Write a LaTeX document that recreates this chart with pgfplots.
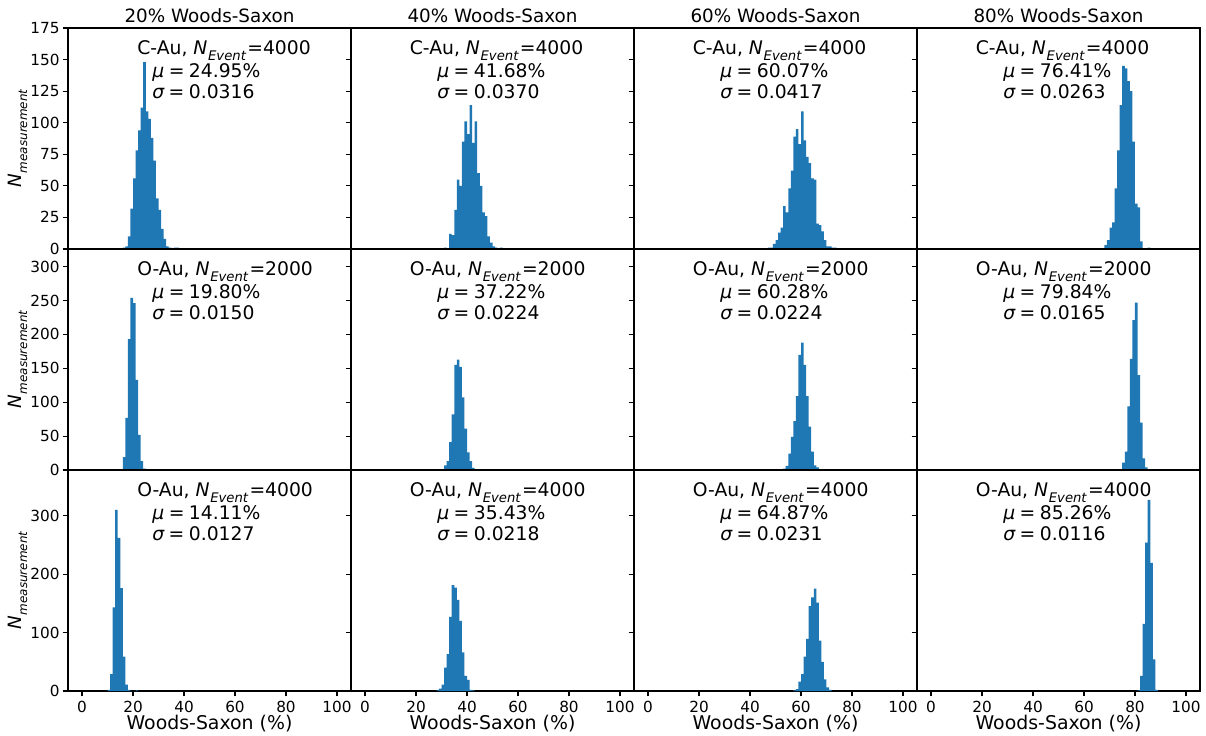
\documentclass[border=0pt]{standalone}
\usepackage{fontspec}
\setmainfont{DejaVu Sans}
\usepackage{pgfplots}
\pgfplotsset{compat=1.18}
\definecolor{mplblue}{HTML}{1F77B4}

\pgfplotsset{
 hist/.style={scale only axis, width=203.76pt, height=159.12pt, anchor=north west,
  xmin=-5.5, xmax=105.5, ymin=0,
  axis line style={line width=0.8pt, black},
  every tick/.style={black, line width=0.8pt},
  tick align=outside, major tick length=3.8pt,
  xtick pos=bottom, ytick pos=left,
  xtick={0,20,...,100},
  tick label style={font=\fontsize{11}{13}\selectfont},
  yticklabel style={xshift=1.2pt},
  /pgf/number format/assume math mode=true,
  every axis title/.style={at={(0.5,1.054)}, anchor=center, font=\fontsize{13.2}{15}\selectfont},
  every axis x label/.style={at={(axis description cs:0.5,-0.147)}, anchor=center, font=\fontsize{13.6}{15}\selectfont},
  every axis y label/.style={at={(axis description cs:-0.177,0.5)}, anchor=center, rotate=90, font=\fontsize{13.2}{15}\selectfont},
  scaled y ticks=false,
 },
 r1/.style={ymax=175, ytick={0,25,...,175}, xmajorticks=false},
 r2/.style={ymax=326, ytick={0,50,...,300}, xmajorticks=false},
 r3/.style={ymax=378, ytick={0,100,200,300}, xlabel={Woods-Saxon (\%)}},
 c1/.style={ylabel={\itshape N\kern0.5pt\raisebox{-0.28em}{\fontsize{8.6}{10}\selectfont\itshape measurement}}},
 cin/.style={yticklabel=\empty},
 bars/.style={ybar interval, fill=mplblue, draw=none},
}
\newcommand{\ann}[5]{%
 \node[anchor=base west, inner sep=0pt, font=\fontsize{13.5}{16}\selectfont] at (axis description cs:#1,0.878) {#3, {\itshape N}\kern0.5pt\raisebox{-0.3em}{\fontsize{9.5}{11}\selectfont\itshape Event}\kern1pt=#4};
 \node[anchor=base west, inner sep=0pt, font=\fontsize{13.5}{16}\selectfont] at (axis description cs:#2,0.778) {{\itshape μ}\kern0.24em=\kern0.24em#5\%};
}
\newcommand{\anns}[2]{%
 \node[anchor=base west, inner sep=0pt, font=\fontsize{13.5}{16}\selectfont] at (axis description cs:#1,0.679) {{\itshape σ}\kern0.24em=\kern0.24em#2};
}

\begin{document}
\begin{tikzpicture}
\useasboundingbox (0,0) rectangle (868.32pt,-529.92pt);

% ---------------- Row 1 ----------------
\begin{axis}[hist, r1, c1, at={(68*0.72pt,-28*0.72pt)}, title={20\% Woods-Saxon}]
\addplot[bars] coordinates {(16,1)(17,2)(18,10)(19,32)(20,56)(21,78)(22,94)(23,112)(24,148)(25,109)(26,103)(27,88)(28,70)(29,40)(30,31)(31,16)(32,8)(33,2)(34,1)(35,0)(36,1)(37,1)(38,0)};
\ann{0.244}{0.297}{C-Au}{4000}{24.95}\anns{0.297}{0.0316}
\end{axis}
\begin{axis}[hist, r1, cin, at={(351*0.72pt,-28*0.72pt)}, title={40\% Woods-Saxon}]
\addplot[bars] coordinates {(31,1)(32,0)(33,12)(34,11)(35,31)(36,55)(37,50)(38,85)(39,101)(40,91)(41,114)(42,84)(43,101)(44,60)(45,50)(46,29)(47,26)(48,10)(49,5)(50,2)(51,1)(52,0)(53,1)(54,0)};
\ann{0.207}{0.304}{C-Au}{4000}{41.68}\anns{0.304}{0.0370}
\end{axis}
\begin{axis}[hist, r1, cin, at={(634*0.72pt,-28*0.72pt)}, title={60\% Woods-Saxon}]
\addplot[bars] coordinates {(47,1)(48,1)(49,4)(50,7)(51,13)(52,17)(53,34)(54,29)(55,48)(56,62)(57,89)(58,95)(59,83)(60,109)(61,86)(62,73)(63,68)(64,56)(65,55)(66,20)(67,19)(68,14)(69,7)(70,2)(71,2)(72,1)(73,1)(74,0)};
\ann{0.207}{0.304}{C-Au}{4000}{60.07}\anns{0.304}{0.0417}
\end{axis}
\begin{axis}[hist, r1, cin, at={(917*0.72pt,-28*0.72pt)}, title={80\% Woods-Saxon}]
\addplot[bars] coordinates {(68,3)(69,7)(70,17)(71,21)(72,48)(73,78)(74,114)(75,145)(76,143)(77,133)(78,125)(79,85)(80,36)(81,33)(82,6)(83,0)(84,0)(85,1)(86,0)};
\ann{0.207}{0.304}{C-Au}{4000}{76.41}\anns{0.304}{0.0263}
\end{axis}

% ---------------- Row 2 ----------------
\begin{axis}[hist, r2, c1, at={(68*0.72pt,-249*0.72pt)}]
\addplot[bars] coordinates {(14,1)(15,1)(16,19)(17,77)(18,193)(19,254)(20,246)(21,133)(22,52)(23,13)(24,2)(25,0)};
\ann{0.244}{0.297}{O-Au}{2000}{19.80}\anns{0.297}{0.0150}
\end{axis}
\begin{axis}[hist, r2, cin, at={(351*0.72pt,-249*0.72pt)}]
\addplot[bars] coordinates {(30,1)(31,7)(32,13)(33,41)(34,82)(35,155)(36,163)(37,152)(38,107)(39,61)(40,26)(41,13)(42,3)(43,1)(44,1)(45,0)};
\ann{0.207}{0.304}{O-Au}{2000}{37.22}\anns{0.304}{0.0224}
\end{axis}
\begin{axis}[hist, r2, cin, at={(634*0.72pt,-249*0.72pt)}]
\addplot[bars] coordinates {(53,2)(54,6)(55,24)(56,49)(57,72)(58,109)(59,170)(60,188)(61,155)(62,109)(63,64)(64,27)(65,7)(66,4)(67,1)(68,1)(69,0)};
\ann{0.207}{0.304}{O-Au}{2000}{60.28}\anns{0.304}{0.0224}
\end{axis}
\begin{axis}[hist, r2, cin, at={(917*0.72pt,-249*0.72pt)}]
\addplot[bars] coordinates {(74,1)(75,11)(76,27)(77,94)(78,164)(79,221)(80,247)(81,140)(82,70)(83,17)(84,4)(85,1)(86,0)};
\ann{0.207}{0.304}{O-Au}{2000}{79.84}\anns{0.304}{0.0165}
\end{axis}

% ---------------- Row 3 ----------------
\begin{axis}[hist, r3, c1, at={(68*0.72pt,-470*0.72pt)}]
\addplot[bars] coordinates {(10,2)(11,29)(12,143)(13,310)(14,262)(15,176)(16,59)(17,11)(18,2)(19,0)(20,0)(21,1)(22,0)};
\ann{0.244}{0.297}{O-Au}{4000}{14.11}\anns{0.297}{0.0127}
\end{axis}
\begin{axis}[hist, r3, cin, at={(351*0.72pt,-470*0.72pt)}]
\addplot[bars] coordinates {(28,1)(29,4)(30,11)(31,40)(32,63)(33,127)(34,181)(35,177)(36,156)(37,120)(38,66)(39,26)(40,19)(41,2)(42,1)(43,0)};
\ann{0.207}{0.304}{O-Au}{4000}{35.43}\anns{0.304}{0.0218}
\end{axis}
\begin{axis}[hist, r3, cin, at={(634*0.72pt,-470*0.72pt)}]
\addplot[bars] coordinates {(57,1)(58,3)(59,16)(60,29)(61,59)(62,89)(63,145)(64,160)(65,175)(66,151)(67,86)(68,50)(69,20)(70,6)(71,2)(72,0)};
\ann{0.207}{0.304}{O-Au}{4000}{64.87}\anns{0.304}{0.0231}
\end{axis}
\begin{axis}[hist, r3, cin, at={(917*0.72pt,-470*0.72pt)}]
\addplot[bars] coordinates {(81,1)(82,26)(83,115)(84,254)(85,327)(86,219)(87,54)(88,2)(89,0)};
\ann{0.207}{0.304}{O-Au}{4000}{85.26}\anns{0.304}{0.0116}
\end{axis}
\end{tikzpicture}
\end{document}
